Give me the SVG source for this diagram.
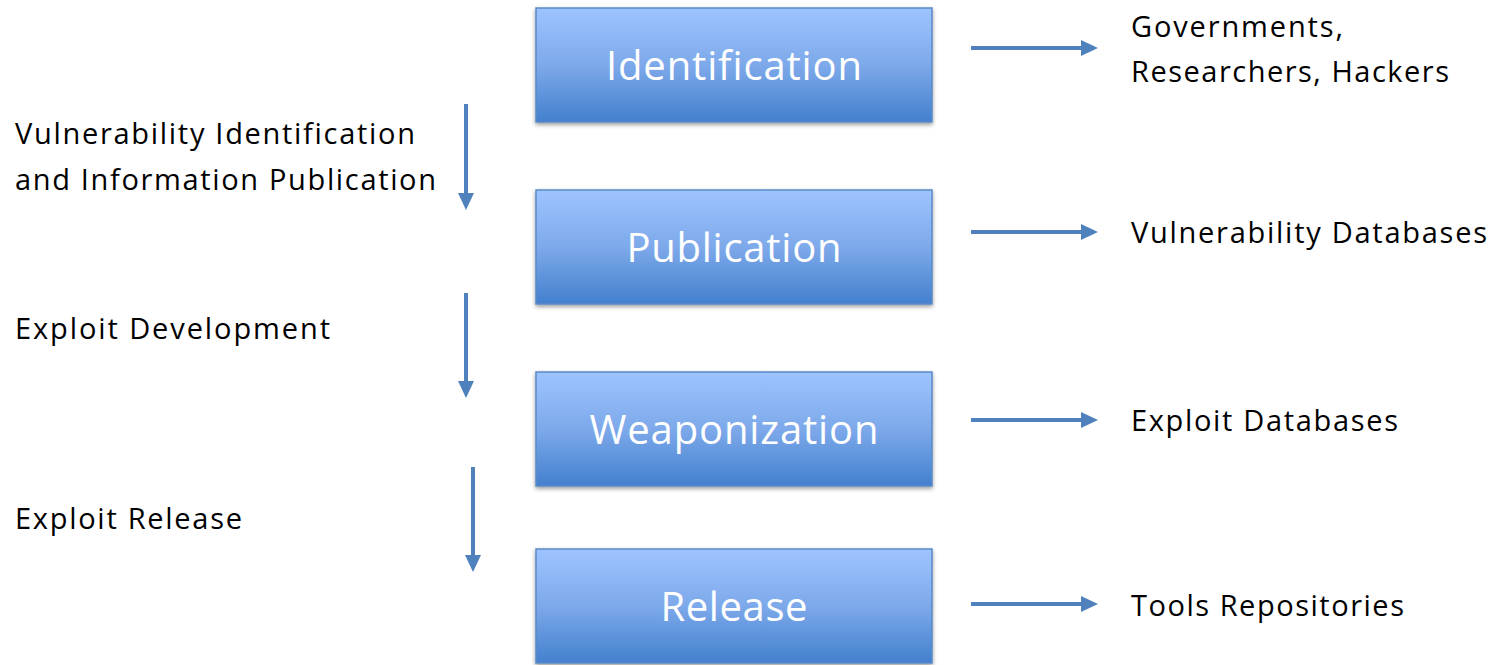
<svg xmlns="http://www.w3.org/2000/svg" width="1495" height="665" viewBox="0 0 1495 665">
<style>
.box{fill:url(#g);stroke:#5A8AC6;stroke-width:1.5;filter:url(#sh)}
.bt{font-family:"Open Sans",Lato,sans-serif;font-size:40px;fill:#fff;text-anchor:middle;font-variant-ligatures:none}
.lt{font-family:"Open Sans",Lato,sans-serif;font-size:29px;fill:#000;font-variant-ligatures:none}
.ar{stroke:#4F81BD;stroke-width:4;fill:none}
.ah{fill:#4F81BD}
</style>
<defs>
<linearGradient id="g" x1="0" y1="0" x2="0" y2="1">
<stop offset="0" stop-color="#9EC4FF"/>
<stop offset="0.5" stop-color="#7DA9EA"/>
<stop offset="1" stop-color="#4380CE"/>
</linearGradient>
<filter id="sh" x="-5%" y="-10%" width="110%" height="130%">
<feGaussianBlur in="SourceAlpha" stdDeviation="2"/>
<feOffset dy="2" result="b"/>
<feComponentTransfer><feFuncA type="linear" slope="0.4"/></feComponentTransfer>
<feMerge><feMergeNode/><feMergeNode in="SourceGraphic"/></feMerge>
</filter>
</defs>
<g id="identification"><rect class="box" x="536" y="8" width="396" height="114"/><text class="bt" x="734" y="80" textLength="256">Identification</text></g>
<g id="publication"><rect class="box" x="536" y="190" width="396" height="114"/><text class="bt" x="734" y="262" textLength="215">Publication</text></g>
<g id="weaponization"><rect class="box" x="536" y="372" width="396" height="114"/><text class="bt" x="734" y="444" textLength="289">Weaponization</text></g>
<g id="release"><rect class="box" x="536" y="549" width="396" height="114"/><text class="bt" x="734" y="621" textLength="147">Release</text></g>
<g id="labels">
<text class="lt" x="1131" y="37" textLength="212">Governments,</text>
<text class="lt" x="1131" y="82" textLength="318">Researchers, Hackers</text>
<text class="lt" x="1131" y="243" textLength="356">Vulnerability Databases</text>
<text class="lt" x="1131" y="431" textLength="267">Exploit Databases</text>
<text class="lt" x="1131" y="616" textLength="273">Tools Repositories</text>
<text class="lt" x="15" y="144" textLength="400">Vulnerability Identification</text>
<text class="lt" x="15" y="190" textLength="421">and Information Publication</text>
<text class="lt" x="15" y="339" textLength="315">Exploit Development</text>
<text class="lt" x="15" y="529" textLength="227">Exploit Release</text>
</g>
<g id="connectors">
<line class="ar" x1="971" y1="48" x2="1084" y2="48"/><polygon class="ah" points="1081,40 1098,48 1081,56"/>
<line class="ar" x1="971" y1="232" x2="1084" y2="232"/><polygon class="ah" points="1081,224 1098,232 1081,240"/>
<line class="ar" x1="971" y1="420" x2="1084" y2="420"/><polygon class="ah" points="1081,412 1098,420 1081,428"/>
<line class="ar" x1="971" y1="604" x2="1084" y2="604"/><polygon class="ah" points="1081,596 1098,604 1081,612"/>
<line class="ar" x1="466" y1="104" x2="466" y2="196"/><polygon class="ah" points="458,193 466,210 474,193"/>
<line class="ar" x1="466" y1="293" x2="466" y2="384"/><polygon class="ah" points="458,381 466,398 474,381"/>
<line class="ar" x1="473" y1="467" x2="473" y2="558"/><polygon class="ah" points="465,555 473,572 481,555"/>
</g>
</svg>
